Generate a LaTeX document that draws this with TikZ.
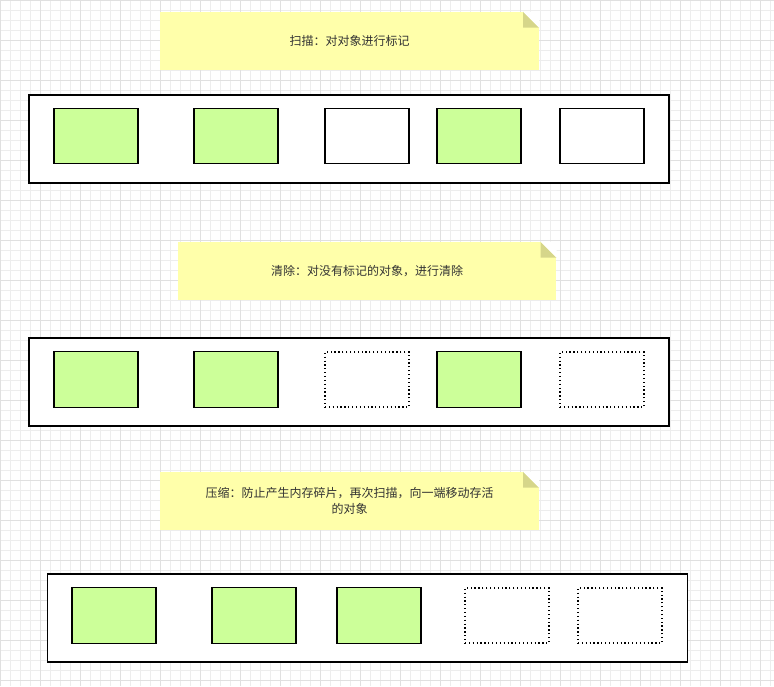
\documentclass[tikz,border=0pt]{standalone}
\usepackage{fontspec}
\newfontfamily\cjk{Noto Sans CJK SC}
\definecolor{objgreen}{HTML}{CCFF99}
\definecolor{notefill}{HTML}{FFFFAA}
\definecolor{notefold}{HTML}{D6D68A}
\begin{document}
\begin{tikzpicture}[
        x=0.75pt, y=-0.75pt,
        heap/.style={draw, line width=0.9pt, fill=white, minimum width=480pt, minimum height=66pt, inner sep=0pt},
        live/.style={draw, line width=0.9pt, fill=objgreen, minimum width=63pt, minimum height=41.5pt, inner sep=0pt},
        free/.style={draw, line width=0.9pt, fill=white, minimum width=63pt, minimum height=41.5pt, inner sep=0pt},
        freed/.style={free, dotted, line width=1.1pt},
        note/.style={fill=notefill, minimum width=284pt, minimum height=43.5pt, inner sep=2pt, font=\cjk\fontsize{9}{12}\selectfont, text=black!80, align=center}
    ]
    \useasboundingbox (0,0) rectangle (774,686);
    \fill[white] (0,0) rectangle (774,686);
    \draw[black!7, line width=0.4pt, step=7.5pt] (0,0) grid (774,686);
    \draw[black!12, line width=0.4pt, step=30pt] (0,0) grid (774,686);

    % Mark
    \node[note] (n1) at (349.5,41) {扫描：对对象进行标记};
    \fill[notefold] (n1.north east) ++(-12pt,0) -- ++(12pt,-12pt) -- ++(-12pt,0) -- cycle;
    \fill[white] (n1.north east) ++(-12pt,0) -- (n1.north east) -- ++(0,-12pt) -- cycle;
    \node[heap] (h1) at (349,139) {};
    \node[live] (a1) at (96,136) {};
    \node[live] (b1) at (236,136) {};
    \node[free] (c1) at (367,136) {};
    \node[live] (d1) at (479,136) {};
    \node[free] (e1) at (602,136) {};

    % Sweep
    \node[note] (n2) at (367,271) {清除：对没有标记的对象，进行清除};
    \fill[notefold] (n2.north east) ++(-12pt,0) -- ++(12pt,-12pt) -- ++(-12pt,0) -- cycle;
    \fill[white] (n2.north east) ++(-12pt,0) -- (n2.north east) -- ++(0,-12pt) -- cycle;
    \node[heap] (h2) at (349,382) {};
    \node[live] (a2) at (96,379.5) {};
    \node[live] (b2) at (236,379.5) {};
    \node[freed] (c2) at (367,379.5) {};
    \node[live] (d2) at (479,379.5) {};
    \node[freed] (e2) at (602,379.5) {};

    % Compact
    \node[note] (n3) at (349.5,501) {压缩：防止产生内存碎片，再次扫描，向一端移动存活\\的对象};
    \fill[notefold] (n3.north east) ++(-12pt,0) -- ++(12pt,-12pt) -- ++(-12pt,0) -- cycle;
    \fill[white] (n3.north east) ++(-12pt,0) -- (n3.north east) -- ++(0,-12pt) -- cycle;
    \node[heap] (h3) at (367.5,618) {};
    \node[live] (a3) at (114,615.5) {};
    \node[live] (b3) at (254,615.5) {};
    \node[live] (c3) at (379,615.5) {};
    \node[freed] (d3) at (507,615.5) {};
    \node[freed] (e3) at (620,615.5) {};
\end{tikzpicture}
\end{document}
